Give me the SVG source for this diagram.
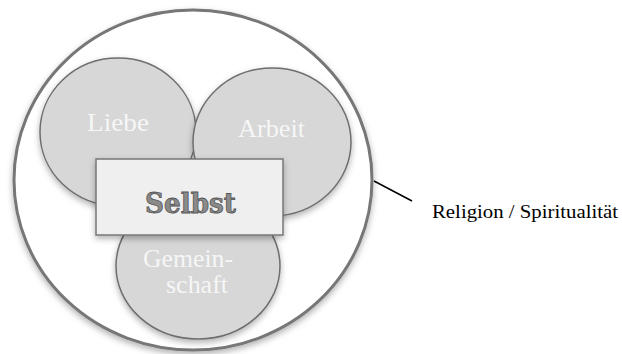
<svg xmlns="http://www.w3.org/2000/svg" width="622" height="354" viewBox="0 0 622 354">
<defs>
<filter id="sh" x="-20%" y="-20%" width="140%" height="140%">
<feDropShadow dx="0" dy="3" stdDeviation="3" flood-color="#000" flood-opacity="0.3"/>
</filter>
</defs>
<style>
.bubble{fill:#d7d7d7;stroke:#6e6e6e;stroke-width:1.5;filter:url(#sh)}
.lbl{font-family:"Liberation Serif",serif;font-size:25px;fill:#f6f6f6}
</style>
<rect width="622" height="354" fill="#fff"/>
<g id="religion">
<ellipse cx="193" cy="180" rx="179" ry="170" fill="#fff" stroke="#777" stroke-width="3" filter="url(#sh)"/>
</g>
<g id="liebe">
<ellipse class="bubble" cx="118" cy="132" rx="78" ry="74"/>
<text class="lbl" x="87" y="131" textLength="62" lengthAdjust="spacingAndGlyphs">Liebe</text>
</g>
<g id="arbeit">
<ellipse class="bubble" cx="272" cy="142" rx="79" ry="74"/>
<text class="lbl" x="238" y="137" textLength="67" lengthAdjust="spacingAndGlyphs">Arbeit</text>
</g>
<g id="gemeinschaft">
<ellipse class="bubble" cx="198" cy="266" rx="82" ry="73"/>
<text class="lbl" x="143" y="267" textLength="90" lengthAdjust="spacingAndGlyphs">Gemein-</text>
<text class="lbl" x="166" y="293" textLength="62" lengthAdjust="spacingAndGlyphs">schaft</text>
</g>
<g id="selbst">
<rect x="96" y="159" width="187" height="76" fill="#efefef" stroke="#777" stroke-width="1.5" filter="url(#sh)"/>
<text x="145" y="213" font-family="'DejaVu Serif',serif" font-weight="bold" font-size="27" fill="#8a8a8a" stroke="#555" stroke-width="0.8" textLength="91" lengthAdjust="spacingAndGlyphs">Selbst</text>
</g>
<g id="connectors">
<line x1="374" y1="181" x2="412" y2="201" stroke="#000" stroke-width="1.5"/>
</g>
<g id="label">
<text x="432" y="218" font-family="'Liberation Serif',serif" font-size="19" fill="#000" textLength="186" lengthAdjust="spacingAndGlyphs">Religion / Spiritualität</text>
</g>
</svg>
